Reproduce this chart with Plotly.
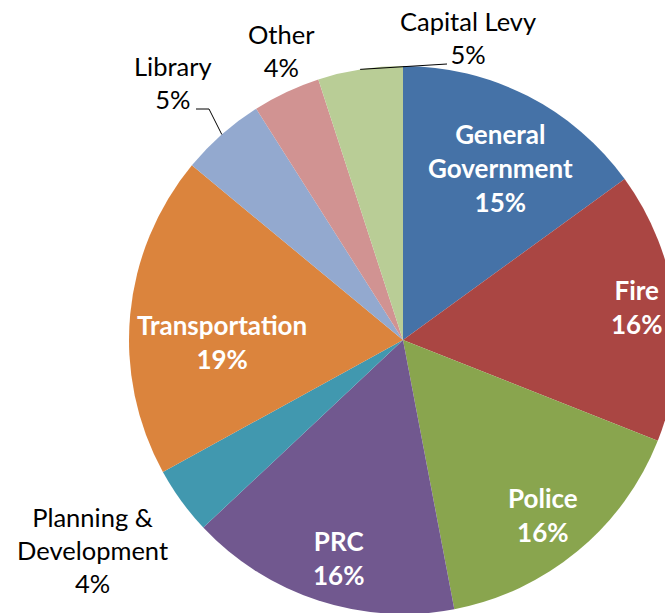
import math
import plotly.graph_objects as go

# ---------------- data ----------------
categories = ["General Government", "Fire", "Police", "PRC", "Planning & Development",
              "Transportation", "Library", "Other", "Capital Levy"]
shares = [15, 16, 16, 16, 4, 19, 5, 4, 5]
label_names = ["General<br>Government", "Fire", "Police", "PRC", "Planning &<br>Development",
               "Transportation", "Library", "Other", "Capital Levy"]

# ---------------- style ----------------
colors = ["#4572A7", "#AA4643", "#89A54E", "#71588F", "#4198AF",
          "#DB843D", "#93A9CF", "#D19392", "#B9CD96"]
inside = [True, True, True, True, False, True, False, False, False]
# label centres in page pixels
label_xy = [(500, 168), (636, 307), (543, 515), (338, 558), (92, 550),
            (222, 342), (173, 83), (281, 50), (468, 38)]

W, H = 700, 640           # figure larger than the 665x613 window -> pie clipped on right/bottom
CX, CY, R = 403, 340, 274  # pie centre / radius in pixels
FONT = "Lato"


def px(x):
    return x / W


def py(y):
    return 1 - y / H


fig = go.Figure(go.Pie(
    labels=categories,
    values=shares,
    sort=False,
    direction="clockwise",
    rotation=0,
    marker=dict(colors=colors, line=dict(width=0)),
    textinfo="none",
    hoverinfo="label+percent",
    domain=dict(x=[px(CX - R), px(CX + R)], y=[py(CY + R), py(CY - R)]),
    showlegend=False,
))

annotations = []
for name, share, isin, (lx, ly) in zip(label_names, shares, inside, label_xy):
    annotations.append(dict(
        x=px(lx), y=py(ly), xref="paper", yref="paper",
        text=f"{name}<br>{share}%", showarrow=False,
        xanchor="center", yanchor="middle", align="center",
        font=dict(family=FONT, size=26 if isin else 25.5,
                  color="white" if isin else "black",
                  weight="bold" if isin else "normal"),
    ))

# leader lines from slice mid-angle edge to labels (Library, Capital Levy)
total = sum(shares)
cum = 0
mid_pts = []
for s in shares:
    mid = (cum + s / 2) / total * 2 * math.pi
    mid_pts.append((CX + R * math.sin(mid), CY - R * math.cos(mid)))
    cum += s

shapes = []
lib_tip = mid_pts[categories.index("Library")]
cap_tip = mid_pts[categories.index("Capital Levy")]
leaders = [
    [lib_tip, (209, 109), (196, 109)],
    [cap_tip, (447, 64)],
]
for pts in leaders:
    path = "M " + " L ".join(f"{px(x)},{py(y)}" for x, y in pts)
    shapes.append(dict(type="path", xref="paper", yref="paper", path=path,
                       line=dict(color="black", width=1)))

fig.update_layout(
    width=W, height=H,
    margin=dict(l=0, r=0, t=0, b=0),
    paper_bgcolor="white", plot_bgcolor="white",
    annotations=annotations,
    shapes=shapes,
    font=dict(family=FONT),
)

fig.write_html("out.html",
               config={"displayModeBar": False},
               post_script="document.body.style.margin='0';document.body.style.overflow='hidden';")
